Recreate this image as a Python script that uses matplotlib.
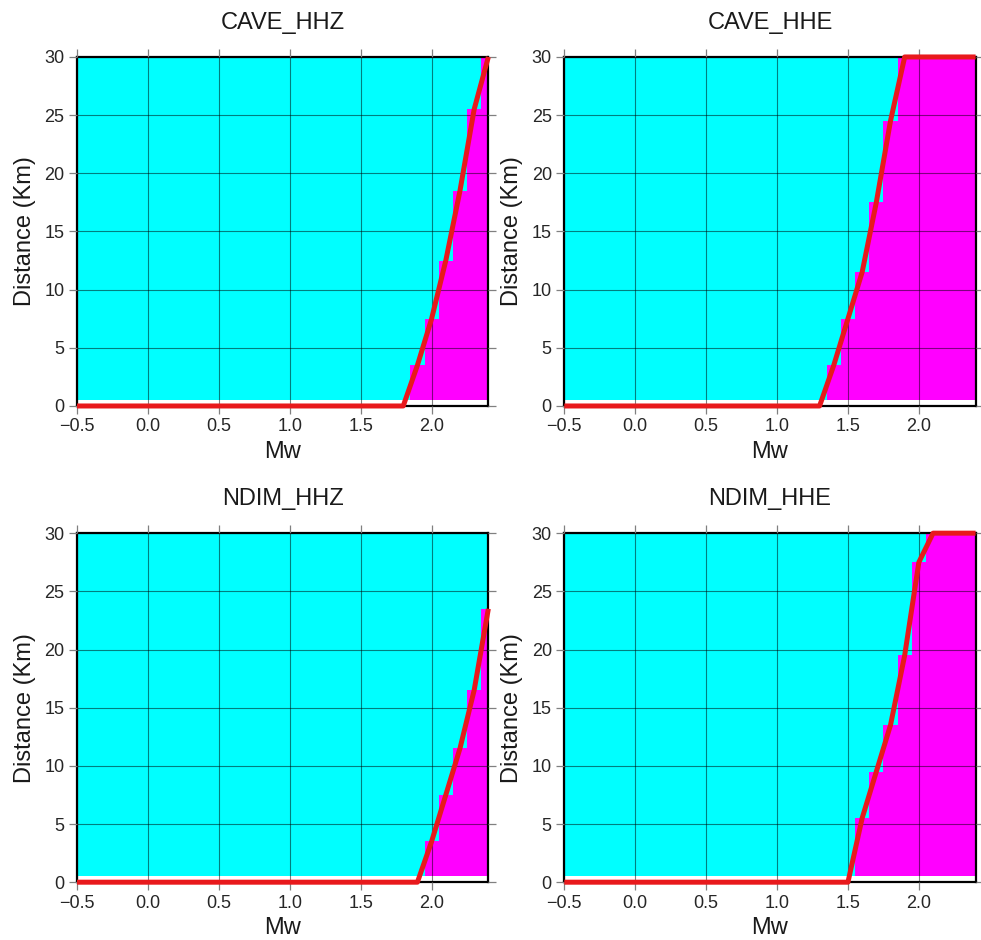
import matplotlib
matplotlib.use('Agg')
import matplotlib.pyplot as plt
import numpy as np
from matplotlib.colors import ListedColormap

plt.rcParams['font.family'] = ['Liberation Sans', 'DejaVu Sans']

# magnitude / distance grid (cell centres)
mw_centers = np.round(np.arange(-0.5, 2.41, 0.1), 1)
dist_centers = np.arange(1, 31)

# farthest detected distance (km) per magnitude column, from the first detecting column up
cave_hhz_mw = [1.9, 2.0, 2.1, 2.2, 2.3, 2.4]
cave_hhz_dmax = [3, 7, 12, 18, 25, 30]
cave_hhz_curve_mw = [-0.5, 1.8, 1.9, 2.0, 2.1, 2.2, 2.3, 2.4]
cave_hhz_curve_d = [0, 0, 3.5, 7.5, 12.5, 18.5, 25.5, 30]

cave_hhe_mw = [1.4, 1.5, 1.6, 1.7, 1.8, 1.9, 2.0, 2.1, 2.2, 2.3, 2.4]
cave_hhe_dmax = [3, 7, 11, 17, 24, 30, 30, 30, 30, 30, 30]
cave_hhe_curve_mw = [-0.5, 1.3, 1.4, 1.5, 1.6, 1.7, 1.8, 1.9, 2.4]
cave_hhe_curve_d = [0, 0, 3.5, 7.5, 11.5, 17.5, 24.5, 30, 30]

ndim_hhz_mw = [2.0, 2.1, 2.2, 2.3, 2.4]
ndim_hhz_dmax = [3, 7, 11, 16, 23]
ndim_hhz_curve_mw = [-0.5, 1.9, 2.0, 2.1, 2.2, 2.3, 2.4]
ndim_hhz_curve_d = [0, 0, 3.5, 7.5, 11.5, 16.5, 23.5]

ndim_hhe_mw = [1.6, 1.7, 1.8, 1.9, 2.0, 2.1, 2.2, 2.3, 2.4]
ndim_hhe_dmax = [5, 9, 13, 19, 27, 30, 30, 30, 30]
ndim_hhe_curve_mw = [-0.5, 1.5, 1.6, 1.7, 1.8, 1.9, 2.0, 2.1, 2.4]
ndim_hhe_curve_d = [0, 0, 5.5, 9.5, 13.5, 19.5, 27.5, 30, 30]

panels = [
    ('CAVE_HHZ', cave_hhz_mw, cave_hhz_dmax, cave_hhz_curve_mw, cave_hhz_curve_d),
    ('CAVE_HHE', cave_hhe_mw, cave_hhe_dmax, cave_hhe_curve_mw, cave_hhe_curve_d),
    ('NDIM_HHZ', ndim_hhz_mw, ndim_hhz_dmax, ndim_hhz_curve_mw, ndim_hhz_curve_d),
    ('NDIM_HHE', ndim_hhe_mw, ndim_hhe_dmax, ndim_hhe_curve_mw, ndim_hhe_curve_d),
]

cmap = ListedColormap(['#00ffff', '#ff00ff'])
x_edges = np.append(mw_centers - 0.05, mw_centers[-1] + 0.05)
y_edges = np.append(dist_centers - 0.5, dist_centers[-1] + 0.5)

fig = plt.figure(figsize=(9.81, 9.40), dpi=100)
lefts = [0.0785, 0.5752]
bottoms = [0.5681, 0.0615]
w, h = 0.4193, 0.3713

for i, (name, mw, dmax, cmw, cd) in enumerate(panels):
    ax = fig.add_axes([lefts[i % 2], bottoms[i // 2], w, h])
    det = np.zeros((len(dist_centers), len(mw_centers)))
    for m, d in zip(mw, dmax):
        col = int(round((m + 0.5) * 10))
        det[:d, col] = 1
    ax.pcolormesh(x_edges, y_edges, det, cmap=cmap, vmin=0, vmax=1)
    ax.plot(cmw, cd, color='#e8191c', lw=3.6, clip_on=False, zorder=5,
            solid_capstyle='butt', solid_joinstyle='round')

    ax.set_xlim(-0.5, 2.4)
    ax.set_ylim(0, 30)
    ax.set_xticks(np.arange(-0.5, 2.01, 0.5))
    ax.set_yticks(np.arange(0, 31, 5))
    ax.set_axisbelow(False)
    ax.grid(True, color='k', lw=0.8, alpha=0.5)
    ax.tick_params(which='both', direction='out', length=6, width=0.9,
                   color='0.5', top=True, right=True, labelsize=13,
                   labelcolor='0.15', pad=3)
    for sp in ax.spines.values():
        sp.set_linewidth(1.6)
        sp.set_color('black')

    ax.set_title(name, fontsize=17, pad=20, color='0.1')
    ax.set_xlabel('Mw', fontsize=17, color='0.1', labelpad=4)
    ax.set_ylabel('Distance (Km)', fontsize=17, color='0.1', labelpad=6)

fig.savefig('out.png', dpi=100)
